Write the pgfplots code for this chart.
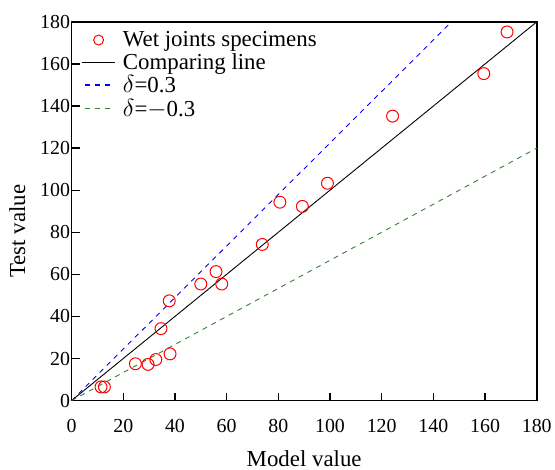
\documentclass[border=0pt]{standalone}
\usepackage{pgfplots}
\pgfplotsset{compat=1.18}
\usepackage{fontspec}
\setmainfont{Liberation Serif}
\definecolor{dgreen}{rgb}{0.2,0.5,0.2}
\begin{document}
\begin{tikzpicture}
\begin{axis}[
  scale only axis,
  width=468pt, height=381pt,
  xmin=0, xmax=180, ymin=0, ymax=180,
  xtick={0,20,...,180}, ytick={0,20,...,180},
  xtick pos=bottom, ytick pos=left,
  tick align=inside,
  major tick length=8pt,
  tick style={line width=1.3pt, black},
  axis line style={line width=1.5pt},
  /pgf/number format/assume math mode=true,
  ticklabel style={font=\fontsize{20}{22}\selectfont},
  xticklabel style={yshift=-15pt},
  yticklabel style={xshift=2pt},
  xlabel={Model value}, ylabel={Test value},
  label style={font=\fontsize{23}{26}\selectfont},
  xlabel style={yshift=-11pt},
  ylabel style={yshift=8pt, xshift=-20pt},
  legend style={at={(0.014,0.985)}, anchor=north west, draw=none, fill=none,
    font=\fontsize{23}{24}\selectfont, row sep=1pt,
    /tikz/every odd column/.append style={column sep=6pt}},
  legend cell align=left,
]
\addplot[only marks, mark=o, mark size=6pt, red, line width=1pt,
  legend image code/.code={\path[draw=none] (0pt,0pt) -- (33pt,0pt); \draw[red, line width=1pt] (17pt,0pt) circle (5pt);}] coordinates {
(11.4,6.5) (12.7,6.5) (24.7,17.5) (29.6,17.2) (32.6,19.5) (38.1,22.2)
(34.6,34.2) (37.8,47.4) (50,55.4) (55.9,61.3) (58.1,55.4) (73.8,74.2)
(80.6,94.3) (89.3,92.3) (99,103.3) (124.2,135.2) (159.5,155.4) (168.5,175.2)
};
\addlegendentry{Wet joints specimens}
\addplot[black, line width=0.9pt,
  legend image code/.code={\draw[black, line width=0.9pt] (0pt,0pt) -- (33pt,0pt);}] coordinates {(0,0) (180,180)};
\addlegendentry{Comparing line}
\addplot[blue, line width=0.9pt, dash pattern=on 5pt off 5pt,
  legend image code/.code={\path[draw=none] (0pt,0pt) -- (33pt,0pt); \draw[blue, line width=1.1pt, dash pattern=on 5pt off 5pt] (3pt,0pt) -- (28pt,0pt);}] coordinates {(0,0) (147,180)};
\addlegendentry{$\delta$=0.3}
\addplot[dgreen, line width=0.9pt, dash pattern=on 5pt off 5pt,
  legend image code/.code={\path[draw=none] (0pt,0pt) -- (33pt,0pt); \draw[dgreen, line width=1.1pt, dash pattern=on 5pt off 5pt] (3pt,0pt) -- (28pt,0pt);}] coordinates {(0,0) (180,120)};
\addlegendentry{$\delta$=$-$0.3}
\end{axis}
\path ([shift={(-72pt,-60pt)}]current axis.south west) rectangle ([shift={(15pt,22pt)}]current axis.north east);
\end{tikzpicture}
\end{document}
